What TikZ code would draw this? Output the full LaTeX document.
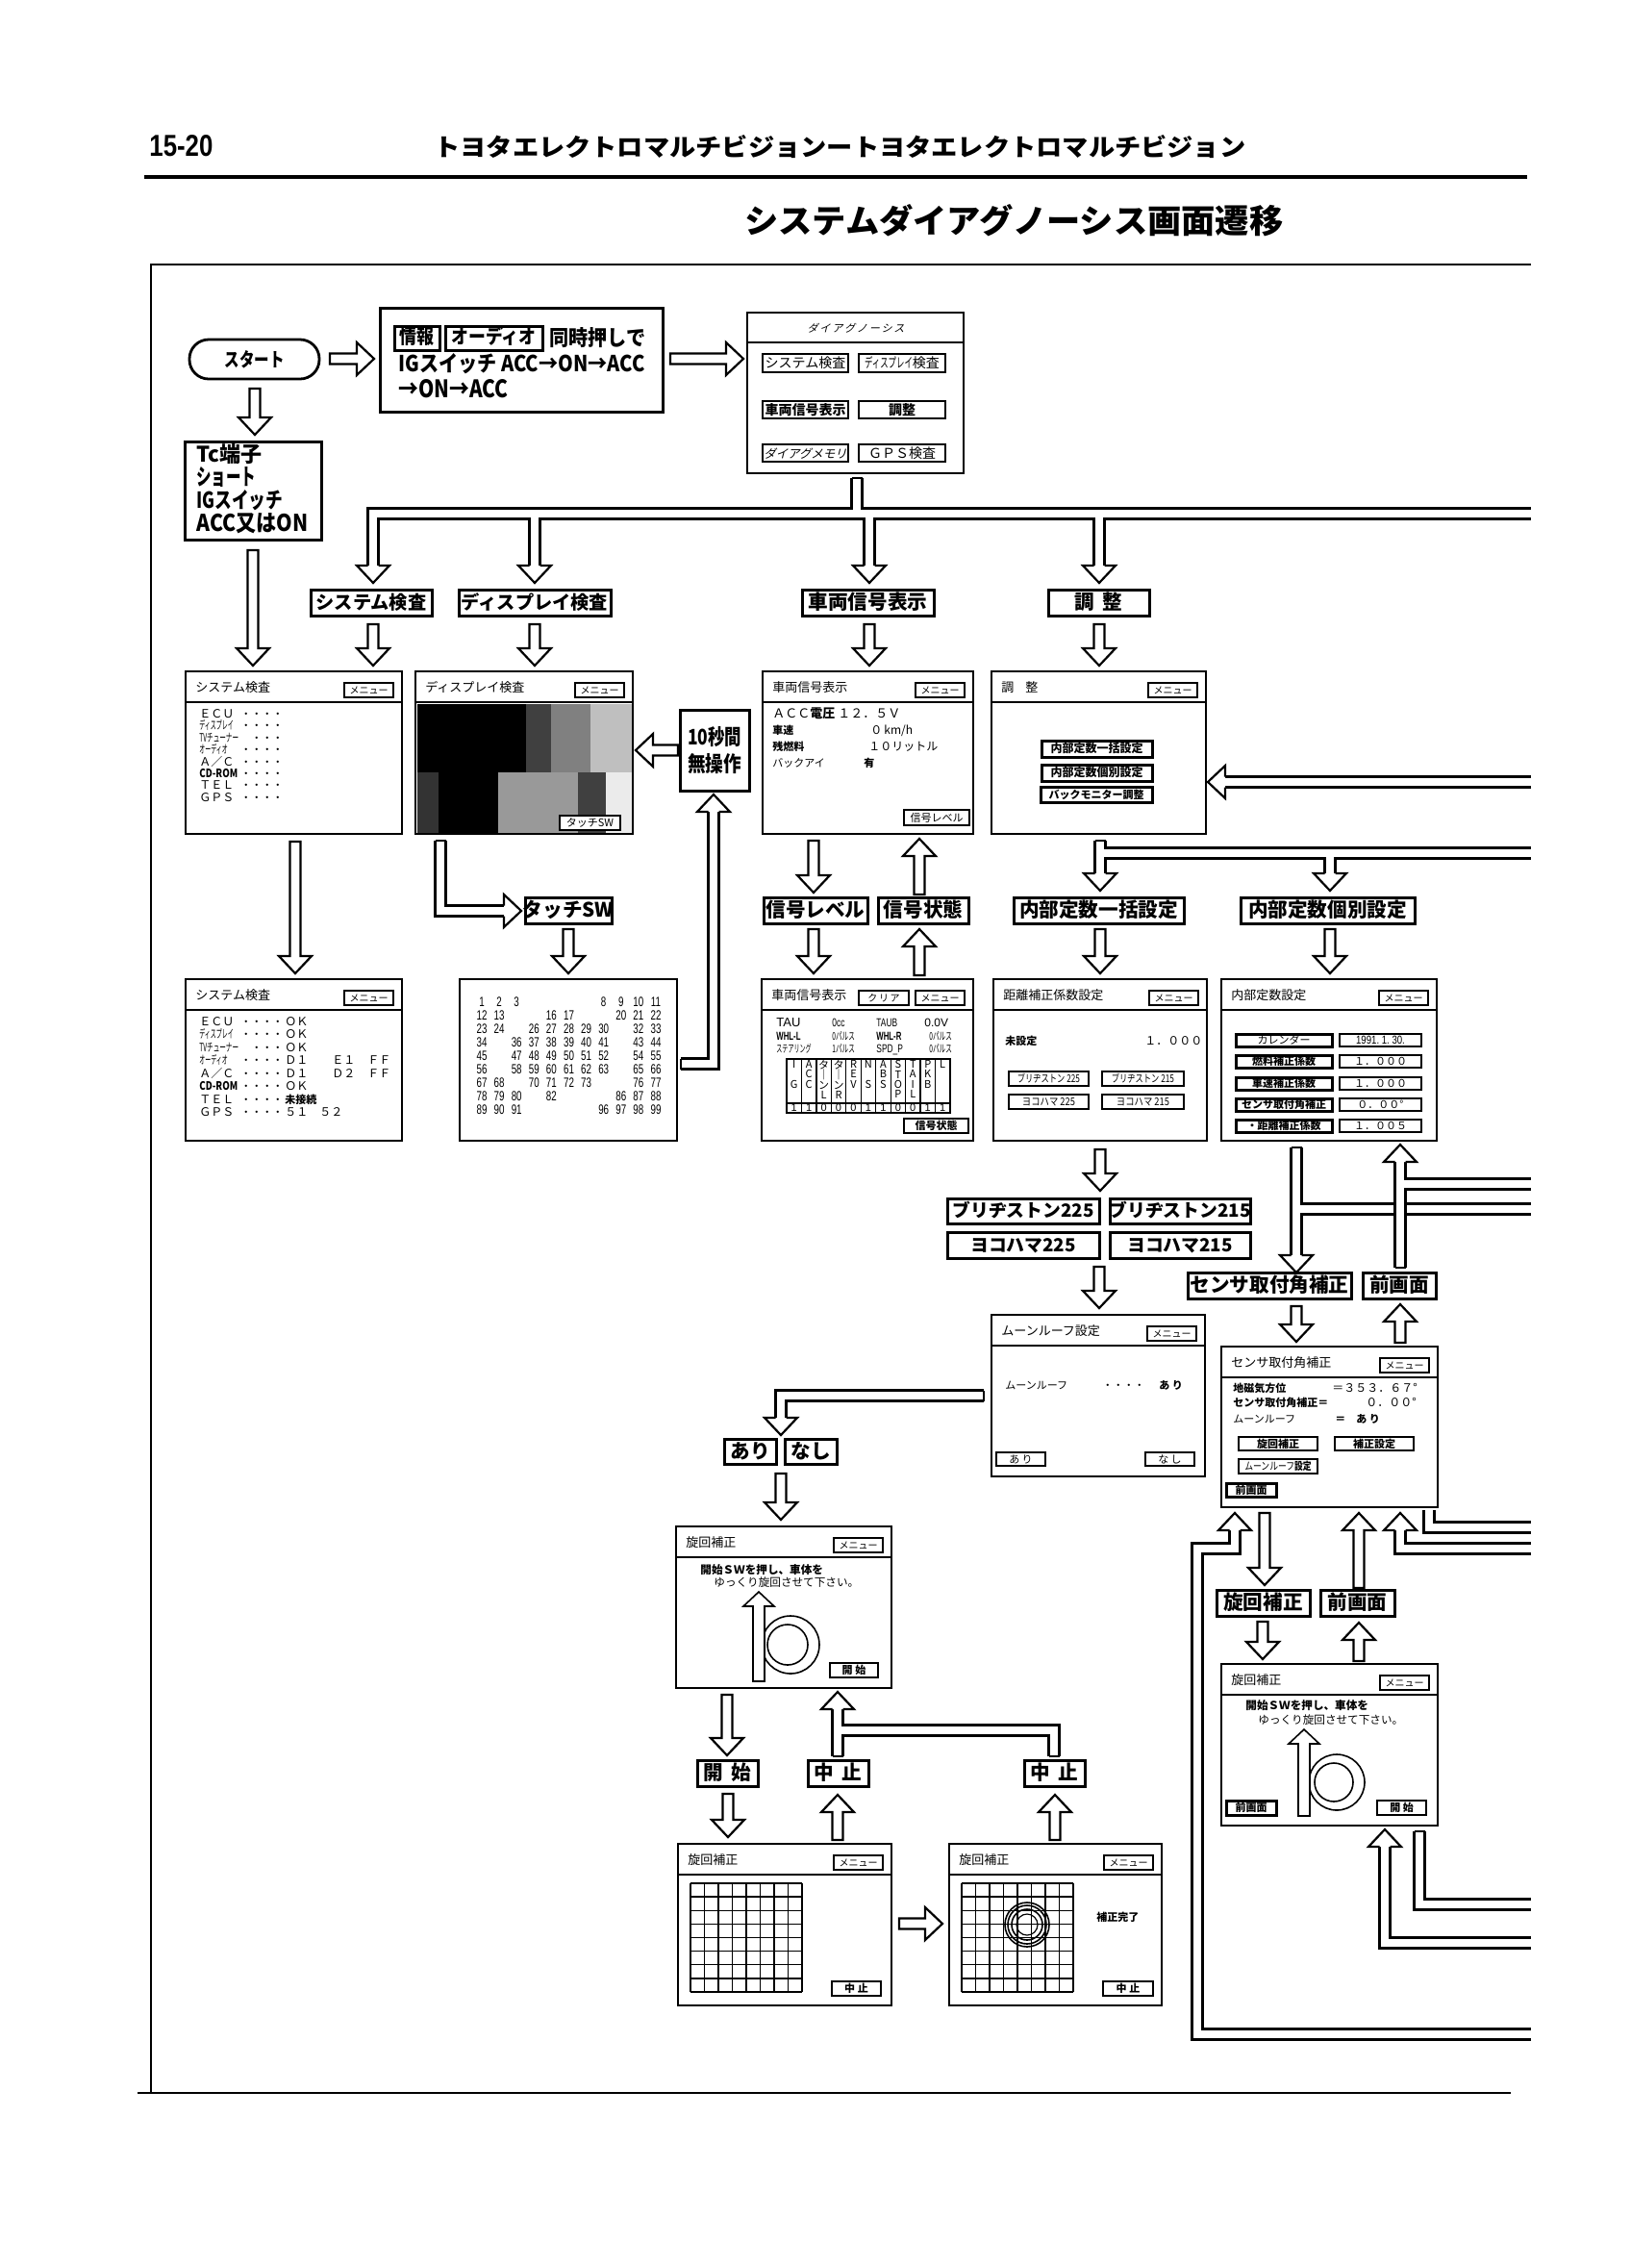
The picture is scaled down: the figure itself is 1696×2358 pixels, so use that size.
\documentclass[tikz,border=0pt]{standalone}
\usepackage{fontspec}
\usepackage{graphicx}
\setmainfont{Noto Sans CJK JP}
\newfontfamily\lib{Liberation Sans}
\newfontfamily\jpsl[FakeSlant=0.25]{Noto Sans CJK JP}
\usetikzlibrary{fit}
\newcommand\ttl{\fontsize{6.5}{7}\selectfont}
\newcommand\sm{\fontsize{6}{7}\selectfont}
\newcommand\xs{\fontsize{5.5}{6}\selectfont}
\newcommand\dm{\fontsize{7}{7}\selectfont}
\newcommand\lb{\bfseries\fontsize{10.3}{11}\selectfont}
\newcommand\lbm{\bfseries\fontsize{9.6}{10}\selectfont}
\newcommand\lbs{\bfseries\fontsize{9.4}{10}\selectfont}
\newcommand\cnd[2]{\scalebox{#1}[1]{#2}}
% straight block arrows: D/U: x, tail y, tip y ; R/L: y, tail x, tip x
\newcommand\arD[3]{\filldraw[ar] (#1-5.5,#2) -- (#1-5.5,#3-18) -- (#1-17,#3-18) -- (#1,#3) -- (#1+17,#3-18) -- (#1+5.5,#3-18) -- (#1+5.5,#2) -- cycle;}
\newcommand\arU[3]{\filldraw[ar] (#1-5.5,#2) -- (#1-5.5,#3+18) -- (#1-17,#3+18) -- (#1,#3) -- (#1+17,#3+18) -- (#1+5.5,#3+18) -- (#1+5.5,#2) -- cycle;}
\newcommand\arR[3]{\filldraw[ar] (#2,#1-5.5) -- (#3-18,#1-5.5) -- (#3-18,#1-17) -- (#3,#1) -- (#3-18,#1+17) -- (#3-18,#1+5.5) -- (#2,#1+5.5) -- cycle;}
\newcommand\arL[3]{\filldraw[ar] (#2,#1-5.5) -- (#3+18,#1-5.5) -- (#3+18,#1-17) -- (#3,#1) -- (#3+18,#1+17) -- (#3+18,#1+5.5) -- (#2,#1+5.5) -- cycle;}
% open heads for pipes (tip point)
\newcommand\hD[2]{\filldraw[hd] (#1-5.5,#2-18) -- (#1-17,#2-18) -- (#1,#2) -- (#1+17,#2-18) -- (#1+5.5,#2-18);}
\newcommand\hU[2]{\filldraw[hd] (#1-5.5,#2+18) -- (#1-17,#2+18) -- (#1,#2) -- (#1+17,#2+18) -- (#1+5.5,#2+18);}
\newcommand\hR[2]{\filldraw[hd] (#1-18,#2-5.5) -- (#1-18,#2-17) -- (#1,#2) -- (#1-18,#2+17) -- (#1-18,#2+5.5);}
\newcommand\hL[2]{\filldraw[hd] (#1+18,#2-5.5) -- (#1+18,#2-17) -- (#1,#2) -- (#1+18,#2+17) -- (#1+18,#2+5.5);}
\newcommand\capH[2]{\draw[cp] (#1-5.5,#2) -- (#1+5.5,#2);}
\newcommand\capV[2]{\draw[cp] (#1,#2-5.5) -- (#1,#2+5.5);}
% boxes: frame node + text node placed on its baseline
\newcommand\bx[7][btn]{\node[#1, fit={(#3,#4)(#5,#6)}] (#2) {};\node[anchor=base,inner sep=0pt,#1-txt] (#2-x) at (#2.center) {#7};}
\newcommand\scrn[6]{\bx[scr]{#1}{#2}{#3}{#4}{#5}{}\draw[line width=1pt] (#2,#3+32) -- (#4,#3+32);\node[tx] (#1-t) at (#2+10,#3+17) {\ttl #6};}
\newcommand\mnu[3]{\bx[mnub]{#1-m}{#2-60}{#3+12}{#2-9}{#3+27}{\fontsize{5}{5}\selectfont メニュー}}
\newcommand\rotfig[8]{%
 \filldraw[fill=white,line width=0.8pt] (#5,#6) circle[radius=#7];
 \draw[line width=0.8pt] (#5-3,#6) circle[radius=#8];
 \filldraw[fill=white,line width=0.8pt,line join=miter] (#2-6,#4) -- (#2-6,#3+15) -- (#2-16,#3+15) -- (#2,#3) -- (#2+16,#3+15) -- (#2+6,#3+15) -- (#2+6,#4) -- cycle;
 \coordinate (#1) at (#5,#6);}
\begin{document}
\begin{tikzpicture}[x=0.5pt,y=-0.5pt,
 ar/.style={fill=white,draw=black,line width=1.1pt,line join=miter},
 hd/.style={fill=white,draw=black,line width=1.1pt,line join=miter,line cap=square},
 cp/.style={line width=1.1pt,line cap=square},
 pO/.style={draw=black,line width=6.6pt,line join=miter,line cap=butt},
 pI/.style={draw=white,line width=4.4pt,line join=miter,line cap=butt},
 scr/.style={draw,line width=1.2pt,fill=white,inner sep=0pt},
 scr-txt/.style={},
 lab/.style={draw,line width=1.5pt,fill=white,inner sep=0pt},
 lab-txt/.style={yshift=-3.7pt},
 labm/.style={lab},
 labm-txt/.style={yshift=-3.5pt},
 labs/.style={lab},
 labs-txt/.style={yshift=-3.4pt},
 btn/.style={draw,line width=0.8pt,fill=white,inner sep=0pt},
 btn-txt/.style={yshift=-2.1pt},
 btnd/.style={btn,line width=1.1pt},
 btnd-txt/.style={yshift=-2.1pt},
 btn7/.style={btn,line width=1.1pt},
 btn7-txt/.style={yshift=-2.6pt},
 btnk/.style={btn,line width=1.5pt},
 btnk-txt/.style={yshift=-2.1pt},
 btnk9/.style={btn,line width=1.5pt},
 btnk9-txt/.style={yshift=-3pt},
 mnub/.style={btn,line width=1.1pt},
 mnub-txt/.style={yshift=-1.85pt},
 gl/.style={line width=0.7pt},
 tx/.style={inner sep=0pt,anchor=base west,yshift=-2.2pt},
 tr/.style={inner sep=0pt,anchor=west}]
\useasboundingbox (0,0) rectangle (1696,2358);
\fill[white] (0,0) rectangle (1696,2358);

% ---------------- header
\node[tr] (pgno) at (155,152) {\resizebox{33pt}{11pt}{\lib\bfseries 15-20}};
\node[tr] (hdr) at (451,153) {\resizebox{422pt}{11pt}{\bfseries トヨタエレクトロマルチビジョンートヨタエレクトロマルチビジョン}};
\draw[line width=1.6pt] (150,184) -- (1588,184);
\node[tr] (title) at (774,229) {\resizebox{280pt}{15pt}{\bfseries システムダイアグノーシス画面遷移}};
\draw[line width=1.3pt] (1592,275) -- (157,275) -- (157,2176);
\draw[line width=1.3pt] (143,2176) -- (1571,2176);

% ---------------- pipes
% bus from diagnosis menu
\draw[pO] (891,497) -- (891,534);
\draw[pO] (388,588) -- (388,534) -- (1592,534);
\draw[pO] (556,534) -- (556,588);
\draw[pO] (904,534) -- (904,588);
\draw[pO] (1143,534) -- (1143,588);
\draw[pI] (891,497) -- (891,534);
\draw[pI] (388,588) -- (388,534) -- (1592,534);
\draw[pI] (556,534) -- (556,588);
\draw[pI] (904,534) -- (904,588);
\draw[pI] (1143,534) -- (1143,588);
\capH{891}{497}
\hD{388}{606}\hD{556}{606}\hD{904}{606}\hD{1143}{606}
% into adjust screen from right
\draw[pO] (1592,813) -- (1274,813); \draw[pI] (1592,813) -- (1274,813); \hL{1256}{813}
% grid numbers -> 10 s
\draw[pO] (708,1106) -- (742,1106) -- (742,844); \draw[pI] (708,1106) -- (742,1106) -- (742,844);
\capV{708}{1106}\hU{742}{826}
% display check -> touch SW
\draw[pO] (458,874) -- (458,947) -- (524,947); \draw[pI] (458,874) -- (458,947) -- (524,947);
\capH{458}{874}\hR{542}{947}
% adjust -> internal constants
\draw[pO] (1144,874) -- (1144,908); \draw[pO] (1144,887) -- (1592,887); \draw[pO] (1383,887) -- (1383,908);
\draw[pI] (1144,874) -- (1144,908); \draw[pI] (1144,887) -- (1592,887); \draw[pI] (1383,887) -- (1383,908);
\capH{1144}{874}\hD{1144}{926}\hD{1383}{926}
% internal constants -> sensor
\draw[pO] (1348,1193) -- (1348,1305); \draw[pO] (1348,1257) -- (1592,1257);
\draw[pI] (1348,1193) -- (1348,1305); \draw[pI] (1348,1257) -- (1592,1257);
\capH{1348}{1193}\hD{1348}{1323}
\draw[pO] (1456,1318) -- (1456,1208); \draw[pO] (1456,1231) -- (1592,1231);
\draw[pI] (1456,1318) -- (1456,1208); \draw[pI] (1456,1231) -- (1592,1231);
\capH{1456}{1318}\hU{1456}{1190}
% moonroof -> ari/nashi
\draw[pO] (1023,1451) -- (812,1451) -- (812,1474); \draw[pI] (1023,1451) -- (812,1451) -- (812,1474);
\capV{1023}{1451}\hD{812}{1492}
% stop branch
\draw[pO] (871,1826) -- (871,1777); \draw[pO] (871,1799) -- (1096,1799) -- (1096,1826);
\draw[pI] (871,1826) -- (871,1777); \draw[pI] (871,1799) -- (1096,1799) -- (1096,1826);
\capH{871}{1826}\capH{1096}{1826}\hU{871}{1759}
% sensor bottom
\draw[pO] (1592,2115) -- (1245,2115) -- (1245,1610) -- (1284,1610) -- (1284,1591);
\draw[pI] (1592,2115) -- (1245,2115) -- (1245,1610) -- (1284,1610) -- (1284,1591);
\hU{1284}{1573}
\draw[pO] (1592,1610) -- (1456,1610) -- (1456,1591); \draw[pI] (1592,1610) -- (1456,1610) -- (1456,1591);
\hU{1456}{1573}
\draw[pO] (1486,1570) -- (1486,1588) -- (1592,1588); \draw[pI] (1486,1570) -- (1486,1588) -- (1592,1588);
% rotation 2 bottom
\draw[pO] (1592,2020) -- (1440,2020) -- (1440,1920); \draw[pI] (1592,2020) -- (1440,2020) -- (1440,1920);
\hU{1440}{1902}
\draw[pO] (1476,1904) -- (1476,1980) -- (1592,1980); \draw[pI] (1476,1904) -- (1476,1980) -- (1592,1980);
\capH{1476}{1904}

% ---------------- straight arrows
\arR{373}{343}{389}
\arR{373}{697}{773}
\arD{265}{404}{452}
\arD{263}{572}{692}
\arD{388}{649}{692}\arD{556}{649}{692}\arD{904}{649}{692}\arD{1143}{649}{692}
\arL{780}{705}{661}
\arD{307}{875}{1012}
\arD{591}{966}{1012}
\arD{846}{874}{928}\arU{956}{930}{872}
\arD{846}{966}{1012}\arU{956}{1014}{966}
\arD{1144}{966}{1012}\arD{1383}{966}{1012}
\arD{1144}{1195}{1238}
\arD{1143}{1317}{1360}
\arD{1348}{1358}{1395}\arU{1456}{1396}{1356}
\arD{812}{1532}{1580}
\arD{756}{1762}{1825}
\arD{757}{1865}{1910}\arU{871}{1913}{1866}\arU{1097}{1913}{1866}
\arR{2000}{935}{980}
\arD{1315}{1573}{1648}\arU{1413}{1651}{1573}
\arD{1313}{1686}{1725}\arU{1413}{1727}{1687}

% ---------------- top row
\node[draw,line width=1.4pt,rounded corners=10pt,minimum width=67.5pt,minimum height=20.5pt,inner sep=0] (start) at (264.5,373.5) {\resizebox{31pt}{8.5pt}{\bfseries スタート}};
\bx[lab]{b1}{395}{320}{689}{428}{}
\bx[btnk9]{joho}{410}{339}{457}{364}{\resizebox{18pt}{9pt}{\bfseries 情報}}
\bx[btnk9]{audio}{463}{339}{564}{364}{\resizebox{44pt}{9pt}{\bfseries オーディオ}}
\node[tr] (b1a) at (571,351) {\resizebox{50pt}{9.5pt}{\bfseries 同時押しで}};
\node[tr] (b1b) at (414,378) {\resizebox{128pt}{9.5pt}{\bfseries IGスイッチ ACC→ON→ACC}};
\node[tr] (b1c) at (414,404) {\resizebox{57pt}{9.5pt}{\bfseries →ON→ACC}};

\bx[scr]{diag}{777}{325}{1002}{492}{}
\draw[line width=1pt] (777,356) -- (1002,356);
\node[anchor=base,inner sep=0,yshift=-2pt] (diag-t) at (890,341) {\jpsl\fontsize{5.5}{6}\selectfont ダ\,イ\,ア\,グ\,ノ\,ー\,シ\,ス};
\bx[btn7]{d1}{793}{368}{882}{387}{\dm システム検査}
\bx[btn7]{d2}{893}{368}{983}{387}{\dm\cnd{0.6}{ディスプレイ}検査}
\bx[btn7]{d3}{793}{417}{882}{435}{\dm\bfseries 車両信号表示}
\bx[btn7]{d4}{893}{417}{983}{435}{\dm\bfseries 調整}
\bx[btn7]{d5}{793}{462}{882}{480}{\jpsl\fontsize{6.2}{6.5}\selectfont ダイアグメモリ}
\bx[btn7]{d6}{893}{462}{983}{480}{\dm ＧＰＳ検査}

\bx[lab]{tc}{192}{459}{334}{561}{}
\node[tr] (tc1) at (204,472) {\resizebox{34pt}{9.5pt}{\bfseries Tc端子}};
\node[tr] (tc2) at (204,496) {\resizebox{31pt}{9.5pt}{\bfseries ショート}};
\node[tr] (tc3) at (204,520) {\resizebox{45pt}{9.5pt}{\bfseries IGスイッチ}};
\node[tr] (tc4) at (204,544) {\resizebox{58pt}{9.5pt}{\bfseries ACC又はON}};

% ---------------- labels row 2
\bx[labm]{lsys}{323}{613}{449}{640}{\lbm システム検査}
\bx[labm]{ldisp}{477}{613}{635}{640}{\lbm ディスプレイ検査}
\bx[lab]{lveh}{834}{613}{971}{640}{\lb 車両信号表示}
\bx[lab]{ladj}{1090}{613}{1195}{640}{\lb 調\hspace{4pt}整}

% ---------------- screens row 3
\scrn{sc1}{193}{698}{418}{867}{システム検査}\mnu{sc1}{418}{698}
\node[tx] (s1a) at (207,742) {\sm ＥＣＵ};
\node[tx] (s1b) at (207,754) {\sm\cnd{0.5}{ディスプレイ}};
\node[tx] (s1c) at (207,767) {\sm\cnd{0.55}{TVチューナー}};
\node[tx] (s1d) at (207,779) {\sm\cnd{0.5}{オーディオ}};
\node[tx] (s1e) at (207,792) {\sm Ａ／Ｃ};
\node[tx] (s1f) at (207,804) {\sm\cnd{0.8}{\bfseries CD-ROM}};
\node[tx] (s1g) at (207,816) {\sm ＴＥＬ};
\node[tx] (s1h) at (207,829) {\sm ＧＰＳ};
\node[tx] (s1ad) at (250,742) {\xs ・・・・};
\node[tx] (s1bd) at (250,754) {\xs ・・・・};
\node[tx] (s1cd) at (261,767) {\xs ・・・};
\node[tx] (s1dd) at (250,779) {\xs ・・・・};
\node[tx] (s1ed) at (250,792) {\xs ・・・・};
\node[tx] (s1fd) at (250,804) {\xs ・・・・};
\node[tx] (s1gd) at (250,816) {\xs ・・・・};
\node[tx] (s1hd) at (250,829) {\xs ・・・・};

\scrn{dc}{432}{698}{658}{867}{ディスプレイ検査}\mnu{dc}{658}{698}
\fill[black] (434,732) rectangle (547,803);
\fill[black!75] (547,732) rectangle (573,803);
\fill[black!50] (573,732) rectangle (614,803);
\fill[black!25] (614,732) rectangle (657,803);
\fill[black!80] (434,803) rectangle (456,866);
\fill[black] (456,803) rectangle (518,866);
\fill[black!40] (518,803) rectangle (601,866);
\fill[black!75] (601,803) rectangle (630,866);
\fill[black!8] (630,803) rectangle (657,866);
\bx[btnd]{dc-b}{582}{848}{645}{863}{\xs タッチSW}

\bx[lab]{tens}{707}{738}{779}{822}{}
\node[inner sep=0] (tens-a) at (743,766) {\resizebox{28pt}{9.5pt}{\bfseries 10秒間}};
\node[inner sep=0] (tens-b) at (743,794) {\resizebox{28pt}{9.5pt}{\bfseries 無操作}};

\scrn{vs1}{793}{698}{1012}{867}{車両信号表示}\mnu{vs1}{1012}{698}
\node[tx] (v1a) at (803,742) {\fontsize{6.5}{7}\selectfont ＡＣＣ{\bfseries 電圧} １２．５Ｖ};
\node[tx] (v1b) at (803,759) {\xs\bfseries 車速};
\node[tx] (v1b2) at (905,759) {\sm ０\,km/h};
\node[tx] (v1c) at (803,776) {\xs\bfseries 残燃料};
\node[tx] (v1c2) at (903,776) {\sm １０リットル};
\node[tx] (v1d) at (803,793) {\xs バックアイ};
\node[tx] (v1d2) at (898,793) {\xs\bfseries 有};
\bx[btnd]{vs1-b}{940}{842}{1008}{858}{\xs 信号レベル}

\scrn{adj}{1031}{698}{1254}{867}{調\hspace{6pt}整}\mnu{adj}{1254}{698}
\bx[btnk]{adj1}{1083}{770}{1198}{787}{\sm\bfseries 内部定数一括設定}
\bx[btnk]{adj2}{1083}{795}{1198}{812}{\sm\bfseries 内部定数個別設定}
\bx[btnk]{adj3}{1082}{818}{1198}{834}{\xs\bfseries バックモニター調整}

% ---------------- labels row 4
\bx[lab]{ltouch}{546}{933}{636}{960}{\lb タッチSW}
\bx[lab]{lsl}{794}{933}{902}{960}{\lb 信号レベル}
\bx[lab]{lss}{913}{933}{1007}{960}{\lb 信号状態}
\bx[lab]{lbulk}{1054}{933}{1231}{960}{\lb 内部定数一括設定}
\bx[lab]{lindv}{1290}{933}{1471}{960}{\lb 内部定数個別設定}

% ---------------- screens row 5
\scrn{sc2}{193}{1018}{418}{1186}{システム検査}\mnu{sc2}{418}{1018}
\node[tx] (s2a) at (207,1062) {\sm ＥＣＵ};
\node[tx] (s2b) at (207,1075.5) {\sm\cnd{0.5}{ディスプレイ}};
\node[tx] (s2c) at (207,1089) {\sm\cnd{0.55}{TVチューナー}};
\node[tx] (s2d) at (207,1102.5) {\sm\cnd{0.5}{オーディオ}};
\node[tx] (s2e) at (207,1116) {\sm Ａ／Ｃ};
\node[tx] (s2f) at (207,1129.5) {\sm\cnd{0.8}{\bfseries CD-ROM}};
\node[tx] (s2g) at (207,1143) {\sm ＴＥＬ};
\node[tx] (s2h) at (207,1156.5) {\sm ＧＰＳ};
\node[tx] (s2ad) at (250,1062) {\xs ・・・・};
\node[tx] (s2bd) at (250,1075.5) {\xs ・・・・};
\node[tx] (s2cd) at (261,1089) {\xs ・・・};
\node[tx] (s2dd) at (250,1102.5) {\xs ・・・・};
\node[tx] (s2ed) at (250,1116) {\xs ・・・・};
\node[tx] (s2fd) at (250,1129.5) {\xs ・・・・};
\node[tx] (s2gd) at (250,1143) {\xs ・・・・};
\node[tx] (s2hd) at (250,1156.5) {\xs ・・・・};
\node[tx] (s2av) at (296,1062) {\sm ＯＫ};
\node[tx] (s2bv) at (296,1075.5) {\sm ＯＫ};
\node[tx] (s2cv) at (296,1089) {\sm ＯＫ};
\node[tx] (s2dv) at (296,1102.5) {\sm Ｄ１};
\node[tx] (s2dv2) at (345,1102.5) {\sm Ｅ１};
\node[tx] (s2dv3) at (382,1102.5) {\sm ＦＦ};
\node[tx] (s2ev) at (296,1116) {\sm Ｄ１};
\node[tx] (s2ev2) at (345,1116) {\sm Ｄ２};
\node[tx] (s2ev3) at (382,1116) {\sm ＦＦ};
\node[tx] (s2fv) at (296,1129.5) {\sm ＯＫ};
\node[tx] (s2gv) at (296,1143) {\xs\bfseries 未接続};
\node[tx] (s2hv) at (296,1156.5) {\sm ５１};
\node[tx] (s2hv2) at (332,1156.5) {\sm ５２};

\bx[scr]{num}{478}{1018}{704}{1186}{}
\foreach \r/\cols in {0/{0,1,2,7,8,9,10},1/{0,1,4,5,8,9,10},2/{0,1,3,4,5,6,7,9,10},3/{0,2,3,4,5,6,7,9,10},4/{0,2,3,4,5,6,7,9,10},5/{0,2,3,4,5,6,7,9,10},6/{0,1,3,4,5,6,9,10},7/{0,1,2,4,8,9,10},8/{0,1,2,7,8,9,10}}{
 \foreach \c in \cols {
  \pgfmathtruncatemacro\vv{1+11*\r+\c}
  \node[inner sep=0] (n\vv) at (501+18.1*\c,1042+13.9*\r) {\cnd{0.7}{\lib\fontsize{7}{7}\selectfont\vv}};
 }
}

\scrn{vs2}{792}{1018}{1012}{1186}{車両信号表示}\mnu{vs2}{1012}{1018}
\bx[mnub]{vs2-c}{893}{1030}{945}{1045}{\fontsize{5}{5}\selectfont ク\,リ\,ア}
\node[tx] (v2a) at (807,1063) {\lib\fontsize{6.5}{7}\selectfont TAU};
\node[tx] (v2a2) at (865,1063) {\cnd{0.7}{\lib\fontsize{6}{6}\selectfont 0cc}};
\node[tx] (v2a3) at (911,1063) {\cnd{0.7}{\lib\fontsize{6}{6}\selectfont TAUB}};
\node[tx] (v2a4) at (961,1063) {\lib\fontsize{6}{6}\selectfont 0.0V};
\node[tx] (v2b) at (807,1077) {\cnd{0.65}{\lib\fontsize{6}{6}\selectfont\bfseries WHL-L}};
\node[tx] (v2b2) at (865,1077) {\cnd{0.6}{\xs 0パルス}};
\node[tx] (v2b3) at (911,1077) {\cnd{0.65}{\lib\fontsize{6}{6}\selectfont\bfseries WHL-R}};
\node[tx] (v2b4) at (966,1077) {\cnd{0.6}{\xs 0パルス}};
\node[tx] (v2c) at (807,1090) {\cnd{0.55}{\xs ステアリング}};
\node[tx] (v2c2) at (865,1090) {\cnd{0.6}{\xs 1パルス}};
\node[tx] (v2c3) at (911,1090) {\cnd{0.7}{\lib\fontsize{6}{6}\selectfont SPD\_P}};
\node[tx] (v2c4) at (966,1090) {\cnd{0.6}{\xs 0パルス}};
\draw[line width=0.8pt] (818,1101) rectangle (988,1157);
\draw[line width=0.6pt] (818,1147) -- (988,1147);
\foreach \i in {1,...,10} {\draw[line width=0.6pt] (818+15.45*\i,1101) -- (818+15.45*\i,1157);}
\foreach \c/\t in {0/{I\\\mbox{}\\G},1/{A\\C\\C},2/{タ\\｜\\ン\\L},3/{タ\\｜\\ン\\R},4/{R\\E\\V},5/{N\\\mbox{}\\S},6/{A\\B\\S},7/{S\\T\\O\\P},8/{T\\A\\I\\L},9/{P\\K\\B},10/{L}}{
 \node[inner sep=0,anchor=north,align=center,font=\fontsize{5.5}{5.2}\selectfont] (vt\c) at (825.7+15.45*\c,1102) {\t};
}
\foreach \c/\v in {0/1,1/1,2/0,3/0,4/0,5/1,6/1,7/0,8/0,9/1,10/1}{
 \node[inner sep=0,font=\lib\fontsize{5.5}{5.5}\selectfont] (vv\c) at (825.7+15.45*\c,1152) {\v};
}
\bx[btnd]{vs2-b}{940}{1163}{1007}{1178}{\xs\bfseries 信号状態}

\scrn{dist}{1033}{1018}{1255}{1186}{距離補正係数設定}\mnu{dist}{1255}{1018}
\node[tx] (ds-a) at (1045,1082) {\xs\bfseries 未設定};
\node[tx] (ds-b) at (1190,1082) {\sm １．０００};
\bx[btnd]{db1}{1049}{1114}{1132}{1129}{\cnd{0.75}{\xs ブリヂストン\ 225}}
\bx[btnd]{db2}{1146}{1114}{1231}{1129}{\cnd{0.75}{\xs ブリヂストン\ 215}}
\bx[btnd]{db3}{1049}{1138}{1132}{1153}{\cnd{0.85}{\xs ヨコハマ\ 225}}
\bx[btnd]{db4}{1146}{1138}{1231}{1153}{\cnd{0.85}{\xs ヨコハマ\ 215}}

\scrn{intl}{1270}{1018}{1494}{1186}{内部定数設定}\mnu{intl}{1494}{1018}
\bx[btnk]{i1}{1285}{1075}{1385}{1088}{\xs カレンダー}
\bx[btnd]{i1v}{1393}{1075}{1478}{1088}{\cnd{0.8}{\lib\fontsize{6}{6}\selectfont 1991.\ 1.\ 30.}}
\bx[btnk]{i2}{1285}{1097}{1385}{1110}{\xs\bfseries 燃料補正係数}
\bx[btnd]{i2v}{1393}{1097}{1478}{1110}{\xs １．０００}
\bx[btnk]{i3}{1285}{1120}{1385}{1133}{\xs\bfseries 車速補正係数}
\bx[btnd]{i3v}{1393}{1120}{1478}{1133}{\xs １．０００}
\bx[btnk]{i4}{1285}{1142}{1385}{1155}{\xs\bfseries センサ取付角補正}
\bx[btnd]{i4v}{1393}{1142}{1478}{1155}{\xs ０．００°}
\bx[btnk]{i5}{1285}{1164}{1385}{1177}{\xs\bfseries ・距離補正係数}
\bx[btnd]{i5v}{1393}{1164}{1478}{1177}{\xs １．００５}

% ---------------- tyres
\bx[labs]{tb225}{985}{1246}{1143}{1272}{\lbs ブリヂストン225}
\bx[labs]{tb215}{1154}{1246}{1300}{1272}{\lbs ブリヂストン215}
\bx[labs]{ty225}{985}{1281}{1143}{1308}{\lbs ヨコハマ225}
\bx[labs]{ty215}{1154}{1281}{1300}{1308}{\lbs ヨコハマ215}

% ---------------- moonroof
\scrn{moon}{1031}{1367}{1253}{1535}{ムーンルーフ設定}\mnu{moon}{1253}{1367}
\node[tx] (mo-a) at (1045,1440) {\xs ムーンルーフ};
\node[tx] (mo-b) at (1146,1440) {\xs ・・・・};
\node[tx] (mo-c) at (1205,1440) {\xs\bfseries あ\ り};
\bx[btnd]{moon-y}{1036}{1510}{1087}{1524}{\xs あ\ り}
\bx[btnd]{moon-n}{1191}{1510}{1242}{1524}{\xs な\ し}

\bx[lab]{lari}{753}{1496}{807}{1522}{\lb あり}
\bx[lab]{lnashi}{816}{1496}{870}{1522}{\lb なし}

% ---------------- sensor
\bx[lab]{lsens}{1235}{1323}{1405}{1350}{\lb センサ取付角補正}
\bx[lab]{lprev1}{1417}{1323}{1493}{1350}{\lb 前画面}
\scrn{sens}{1270}{1400}{1495}{1567}{センサ取付角補正}\mnu{sens}{1495}{1400}
\node[tx] (se-a) at (1282,1443) {\xs\bfseries 地磁気方位};
\node[tx] (se-a2) at (1385,1443) {\sm ＝３５３．６７°};
\node[tx] (se-b) at (1282,1458) {\xs\bfseries センサ取付角補正＝};
\node[tx] (se-b2) at (1420,1458) {\sm ０．００°};
\node[tx] (se-c) at (1282,1475) {\xs ムーンルーフ};
\node[tx] (se-c2) at (1388,1475) {\xs\bfseries ＝};
\node[tx] (se-c3) at (1410,1475) {\xs\bfseries あ\ り};
\bx[btnd]{se1}{1288}{1494}{1370}{1508}{\xs\bfseries 旋回補正}
\bx[btnd]{se2}{1388}{1494}{1470}{1508}{\xs\bfseries 補正設定}
\bx[btnd]{se3}{1288}{1517}{1370}{1532}{\cnd{0.8}{\xs ムーンルーフ\textbf{設定}}}
\bx[btnk]{se4}{1275}{1542}{1327}{1556}{\xs\bfseries 前画面}

\bx[lab]{lrot}{1265}{1653}{1362}{1680}{\lb 旋回補正}
\bx[lab]{lprev2}{1373}{1653}{1450}{1680}{\lb 前画面}

% ---------------- rotation screens
\scrn{rot1}{703}{1587}{927}{1755}{旋回補正}\mnu{rot1}{927}{1587}
\node[tx] (r1a) at (728,1632) {\fontsize{5.8}{6}\selectfont\bfseries 開始ＳＷを押し、車体を};
\node[tx] (r1b) at (742,1645) {\fontsize{5.8}{6}\selectfont ゆっくり旋回させて下さい。};
\rotfig{r1f}{789}{1655}{1748}{822}{1710}{15pt}{10.5pt}
\bx[btnd]{rot1-s}{863}{1729}{913}{1744}{\xs\bfseries 開\ 始}

\scrn{rot2}{1270}{1730}{1495}{1898}{旋回補正}\mnu{rot2}{1495}{1730}
\node[tx] (r2a) at (1295,1773) {\fontsize{5.8}{6}\selectfont\bfseries 開始ＳＷを押し、車体を};
\node[tx] (r2b) at (1308,1788) {\fontsize{5.8}{6}\selectfont ゆっくり旋回させて下さい。};
\rotfig{r2f}{1356}{1798}{1888}{1390}{1853}{14.5pt}{10pt}
\bx[btnk]{rot2-p}{1275}{1872}{1327}{1887}{\xs\bfseries 前画面}
\bx[btnd]{rot2-s}{1432}{1872}{1483}{1887}{\xs\bfseries 開\ 始}

\bx[lab]{lstart}{725}{1830}{788}{1857}{\lb 開\hspace{4pt}始}
\bx[lab]{lstop1}{840}{1830}{903}{1857}{\lb 中\hspace{4pt}止}
\bx[lab]{lstop2}{1065}{1830}{1128}{1857}{\lb 中\hspace{4pt}止}

% ---------------- grid screens
\scrn{g1}{705}{1917}{927}{2085}{旋回補正}\mnu{g1}{927}{1917}
\foreach \i in {0,...,8}{
 \draw[gl] (718+14.5*\i,1958) -- (718+14.5*\i,2071);
 \draw[gl] (718,1958+14.125*\i) -- (834,1958+14.125*\i);
}
\bx[btnd]{g1-s}{865}{2060}{916}{2075}{\xs\bfseries 中\ 止}

\scrn{g2}{987}{1917}{1208}{2085}{旋回補正}\mnu{g2}{1208}{1917}
\foreach \i in {0,...,8}{
 \draw[gl] (1000+14.5*\i,1958) -- (1000+14.5*\i,2071);
 \draw[gl] (1000,1958+14.125*\i) -- (1116,1958+14.125*\i);
}
\draw[line width=0.8pt] (1068,2001) circle[radius=11.5pt];
\draw[line width=0.8pt] (1068,2001) circle[radius=10pt];
\draw[line width=0.8pt] (1068,2001) circle[radius=8pt];
\draw[line width=0.6pt] (1068,2001) circle[radius=5.5pt];
\node[tx] (g2-d) at (1140,1993) {\xs\bfseries 補正完了};
\bx[btnd]{g2-s}{1147}{2060}{1199}{2075}{\xs\bfseries 中\ 止}
\end{tikzpicture}
\end{document}
